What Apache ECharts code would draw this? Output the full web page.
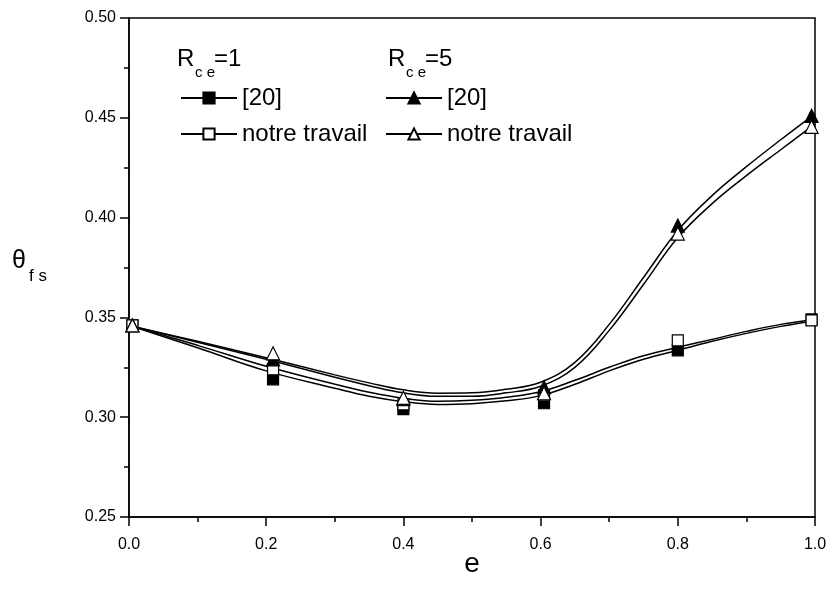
<!DOCTYPE html>
<html>
<head>
<meta charset="utf-8">
<script src="https://cdn.jsdelivr.net/npm/echarts@6/dist/echarts.min.js"></script>
<style>
  html, body { margin: 0; padding: 0; background: #fff; }
  #MainContent { width: 831px; height: 605px; }
</style>
</head>
<body>
<div id="MainContent"></div>
<script>
// measured points (markers)
var eValues = [0.005, 0.21, 0.4, 0.605, 0.8, 0.995];
var pts_ref20_R1 = [0.346, 0.319, 0.304, 0.307, 0.3335, 0.349];
var pts_notre_R1 = [0.346, 0.324, 0.3065, 0.311, 0.3385, 0.3485];
var pts_ref20_R5 = [0.346, 0.329, 0.309, 0.315, 0.396, 0.451];
var pts_notre_R5 = [0.346, 0.332, 0.3097, 0.312, 0.392, 0.4455];

// fitted curves
var curveE = [0, 0.1, 0.2, 0.3, 0.35, 0.4, 0.45, 0.5, 0.55, 0.6, 0.65, 0.7, 0.75, 0.8, 0.85, 0.9, 0.95, 1.0];
var curve_ref20_R5 = [0.346, 0.3380, 0.3298, 0.3212, 0.3172, 0.3137, 0.3120, 0.3122, 0.3140, 0.3175, 0.3275, 0.3465, 0.3700, 0.3935, 0.4110, 0.4255, 0.4390, 0.4520];
var curve_notre_R5 = [0.346, 0.3376, 0.3290, 0.3200, 0.3158, 0.3122, 0.3105, 0.3105, 0.3122, 0.3155, 0.3250, 0.3435, 0.3665, 0.3900, 0.4070, 0.4210, 0.4340, 0.4470];
var curve_notre_R1 = [0.346, 0.3360, 0.3255, 0.3165, 0.3125, 0.3095, 0.3080, 0.3085, 0.3100, 0.3128, 0.3185, 0.3250, 0.3308, 0.3350, 0.3390, 0.3430, 0.3465, 0.3490];
var curve_ref20_R1 = [0.346, 0.3348, 0.3232, 0.3145, 0.3105, 0.3078, 0.3064, 0.3068, 0.3082, 0.3108, 0.3165, 0.3232, 0.3290, 0.3335, 0.3380, 0.3420, 0.3455, 0.3485];

var xTicks = { min: 0, max: 1, interval: 0.2 };
var yTicks = { min: 0.25, max: 0.5, interval: 0.05 };

var FONT = 'Liberation Sans, Arial, sans-serif';

function pairs(xs, ys) {
    return ys.map(function (y, i) { return [xs[i], y]; });
}

function lineSeries(name, ys, symbol, fill) {
    return {
        name: name,
        type: 'line',
        data: pairs(curveE, ys),
        smooth: 0.4,
        symbol: symbol,
        showSymbol: false,
        lineStyle: { color: '#000', width: 1.5 },
        itemStyle: { color: fill, borderColor: '#000', borderWidth: 1.2 },
        emphasis: { disabled: true },
        z: 2
    };
}

function markSeries(name, ys, symbol, fill) {
    return {
        name: name,
        type: 'scatter',
        data: pairs(eValues, ys),
        symbol: symbol,
        symbolSize: symbol === 'rect' ? 11 : 13,
        itemStyle: { color: fill, borderColor: '#000', borderWidth: 1.2, opacity: 1 },
        emphasis: { disabled: true },
        z: 3
    };
}

function txt(text, x, y, size) {
    return {
        type: 'text',
        style: { text: text, x: x, y: y, fontFamily: FONT, fontSize: size, fill: '#000', verticalAlign: 'middle' }
    };
}

function draw() {
    var chart = echarts.init(document.getElementById('MainContent'));

    var legendCommon = {
        orient: 'vertical',
        itemWidth: 56,
        itemHeight: 14,
        itemGap: 12,
        textStyle: { fontFamily: FONT, fontSize: 24, color: '#000', lineHeight: 24 },
        selectedMode: false
    };

    var option = {
        animation: false,
        backgroundColor: '#fff',
        grid: {
            left: 129, right: 16, top: 18, bottom: 88,
            show: true, borderColor: '#000', borderWidth: 1.5
        },
        xAxis: {
            type: 'value',
            min: xTicks.min, max: xTicks.max, interval: xTicks.interval,
            name: 'e',
            nameLocation: 'middle',
            nameGap: 33,
            nameMoveOverlap: false,
            nameTextStyle: { fontFamily: FONT, fontSize: 28, color: '#000' },
            axisLine: { lineStyle: { color: '#000', width: 1.5 } },
            axisTick: { inside: false, length: 9, lineStyle: { color: '#000', width: 1.5 } },
            minorTick: { show: true, splitNumber: 2, length: 5, lineStyle: { color: '#000', width: 1.5 } },
            splitLine: { show: false },
            axisLabel: {
                fontFamily: FONT, fontSize: 16, color: '#000', margin: 20,
                formatter: function (v) { return v.toFixed(1); }
            }
        },
        yAxis: {
            type: 'value',
            min: yTicks.min, max: yTicks.max, interval: yTicks.interval,
            axisLine: { lineStyle: { color: '#000', width: 1.5 } },
            axisTick: { inside: false, length: 9, lineStyle: { color: '#000', width: 1.5 } },
            minorTick: { show: true, splitNumber: 2, length: 5, lineStyle: { color: '#000', width: 1.5 } },
            splitLine: { show: false },
            axisLabel: {
                fontFamily: FONT, fontSize: 16, color: '#000', margin: 13,
                formatter: function (v) { return v.toFixed(2); }
            }
        },
        legend: [
            Object.assign({}, legendCommon, { left: 175, top: 81, data: ['[20] ', 'notre travail '] }),
            Object.assign({}, legendCommon, { left: 380, top: 81, data: ['[20]', 'notre travail'] })
        ],
        graphic: [
            txt('R', 177, 59, 24), txt('c e', 195, 73, 15), txt('=1', 214, 59, 24),
            txt('R', 388, 59, 24), txt('c e', 406, 73, 15), txt('=5', 425, 59, 24),
            txt('θ', 12, 261, 25), txt('f s', 29, 276, 17)
        ],
        series: [
            lineSeries('[20] ', curve_ref20_R1, 'rect', '#000'),
            lineSeries('notre travail ', curve_notre_R1, 'rect', '#fff'),
            lineSeries('[20]', curve_ref20_R5, 'triangle', '#000'),
            lineSeries('notre travail', curve_notre_R5, 'triangle', '#fff'),
            markSeries('m1', pts_ref20_R1, 'rect', '#000'),
            markSeries('m2', pts_notre_R1, 'rect', '#fff'),
            markSeries('m3', pts_ref20_R5, 'triangle', '#000'),
            markSeries('m4', pts_notre_R5, 'triangle', '#fff')
        ]
    };

    chart.setOption(option);
    window.onresize = chart.resize;
}

draw();
</script>
</body>
</html>
